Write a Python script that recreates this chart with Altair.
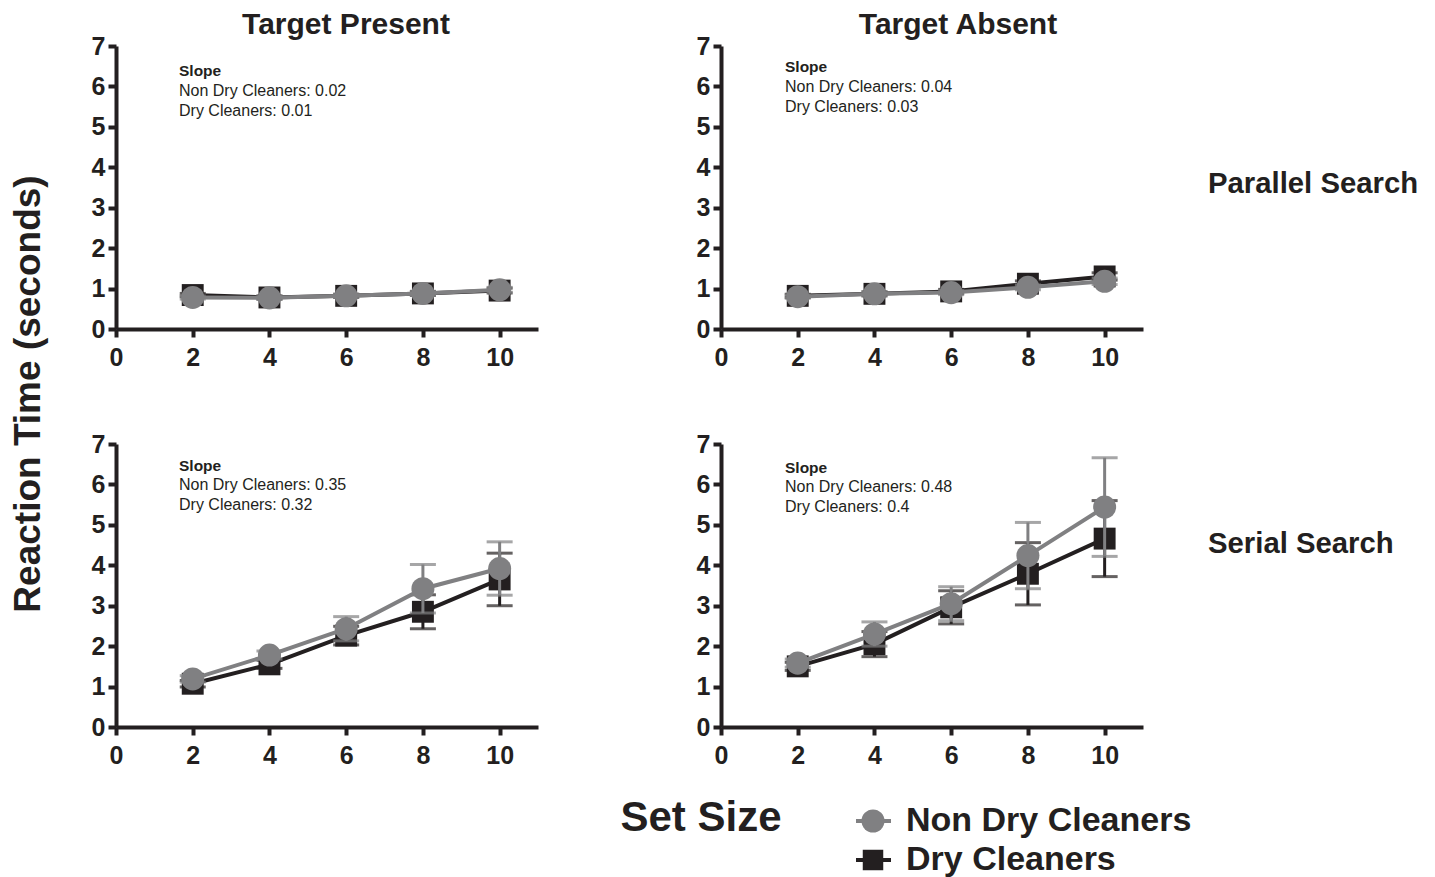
import altair as alt
import pandas as pd

SET_SIZES = [2, 4, 6, 8, 10]
GROUPS = ["Non Dry Cleaners", "Dry Cleaners"]
SEARCHES = ["Parallel Search", "Serial Search"]
TARGETS = ["Target Present", "Target Absent"]

# Parallel search
PP_NON = [0.78, 0.77, 0.82, 0.88, 0.97]
PP_DRY = [0.84, 0.78, 0.82, 0.88, 0.95]
PP_NON_SEM = [0.04, 0.04, 0.04, 0.05, 0.06]
PP_DRY_SEM = [0.04, 0.04, 0.04, 0.05, 0.06]
PA_NON = [0.80, 0.87, 0.90, 1.03, 1.18]
PA_DRY = [0.82, 0.87, 0.93, 1.12, 1.30]
PA_NON_SEM = [0.04, 0.05, 0.05, 0.06, 0.08]
PA_DRY_SEM = [0.04, 0.05, 0.05, 0.07, 0.09]
# Serial search
SP_NON = [1.19, 1.78, 2.43, 3.42, 3.92]
SP_DRY = [1.07, 1.55, 2.26, 2.85, 3.65]
SP_NON_SEM = [0.08, 0.10, 0.30, 0.60, 0.66]
SP_DRY_SEM = [0.08, 0.10, 0.23, 0.42, 0.65]
SA_NON = [1.58, 2.30, 3.05, 4.24, 5.44]
SA_DRY = [1.50, 2.05, 2.96, 3.79, 4.66]
SA_NON_SEM = [0.10, 0.30, 0.42, 0.82, 1.22]
SA_DRY_SEM = [0.10, 0.31, 0.41, 0.77, 0.94]

# Slopes shown in each panel: (Parallel Present, Parallel Absent, Serial Present, Serial Absent)
SLOPE_NON = [0.02, 0.04, 0.35, 0.48]
SLOPE_DRY = [0.01, 0.03, 0.32, 0.4]

X_TICKS = [0, 2, 4, 6, 8, 10]
Y_TICKS = [0, 1, 2, 3, 4, 5, 6, 7]

DARK = "#231f20"
GRAY = "#808082"
FONT = "Liberation Sans"

series = {
    ("Parallel Search", "Target Present"): (PP_NON, PP_NON_SEM, PP_DRY, PP_DRY_SEM),
    ("Parallel Search", "Target Absent"): (PA_NON, PA_NON_SEM, PA_DRY, PA_DRY_SEM),
    ("Serial Search", "Target Present"): (SP_NON, SP_NON_SEM, SP_DRY, SP_DRY_SEM),
    ("Serial Search", "Target Absent"): (SA_NON, SA_NON_SEM, SA_DRY, SA_DRY_SEM),
}
rows = []
for (s, t), (nv, ns, dv, ds) in series.items():
    for i, ss in enumerate(SET_SIZES):
        rows.append(dict(search=s, target=t, group=GROUPS[0], set_size=ss, rt=nv[i], sem=ns[i]))
        rows.append(dict(search=s, target=t, group=GROUPS[1], set_size=ss, rt=dv[i], sem=ds[i]))
df = pd.DataFrame(rows)

W, H = 422, 283

x_enc = alt.X("set_size:Q", title=None,
              scale=alt.Scale(domain=[0, 11], nice=False, zero=False),
              axis=alt.Axis(values=X_TICKS, labelPadding=8, labelFlush=False))
def y_enc(field):
    return alt.Y(field, title=None, scale=alt.Scale(domain=[0, 7], nice=False),
                 axis=alt.Axis(values=Y_TICKS, labelPadding=3, labelFlush=False))


def text_layer(txt, x, y, size, bold=False, align="left", angle=0):
    return alt.Chart(pd.DataFrame({"t": [txt]})).mark_text(
        font=FONT, fontSize=size, fontWeight="bold" if bold else "normal",
        align=align, baseline="middle", color=DARK, angle=angle
    ).encode(text="t:N", x=alt.value(x), y=alt.value(y))


def panel(idx, search, target, slope_y, slope_x, extras):
    base = alt.Chart(df).transform_filter(
        (alt.datum.search == search) & (alt.datum.target == target)
    ).transform_calculate(lo="datum.rt - datum.sem", hi="datum.rt + datum.sem")
    layers = []
    for g, color, shape, size in [(GROUPS[1], DARK, "square", 480), (GROUPS[0], GRAY, "circle", 530)]:
        b = base.transform_filter(alt.datum.group == g)
        layers += [
            b.mark_rule(color=color, strokeWidth=3).encode(x=x_enc, y=y_enc("lo:Q"), y2="hi:Q"),
            b.mark_tick(color=color, thickness=3, size=26, orient="horizontal").encode(x=x_enc, y=y_enc("hi:Q")),
            b.mark_tick(color=color, thickness=3, size=26, orient="horizontal").encode(x=x_enc, y=y_enc("lo:Q")),
            b.mark_line(color=color, strokeWidth=4).encode(x=x_enc, y=y_enc("rt:Q")),
            b.mark_point(shape=shape, filled=True, color=color, size=size, opacity=1).encode(x=x_enc, y=y_enc("rt:Q")),
        ]
    layers += [
        text_layer("Slope", slope_x, slope_y, 15.5, bold=True),
        text_layer(f"{GROUPS[0]}: {SLOPE_NON[idx]}", slope_x, slope_y + 19.5, 16),
        text_layer(f"{GROUPS[1]}: {SLOPE_DRY[idx]}", slope_x, slope_y + 39.5, 16),
    ]
    layers += extras
    return alt.layer(*layers).properties(width=W, height=H)


# decorations
y_title = text_layer("Reaction Time (seconds)", -87, 348, 37, bold=True, align="center", angle=270)
col1 = text_layer(TARGETS[0], 230, -21, 30, bold=True, align="center")
col2 = text_layer(TARGETS[1], 237, -21, 30, bold=True, align="center")
row1 = text_layer(SEARCHES[0], 487, 138, 29.3, bold=True)
row2 = text_layer(SEARCHES[1], 487, 99.5, 29.3, bold=True)
x_title = text_layer("Set Size", -20, 374, 42, bold=True, align="center")

legend_layers = []
for k, (g, color, shape, size) in enumerate([(GROUPS[0], GRAY, "circle", 530), (GROUPS[1], DARK, "square", 420)]):
    ly = 377 + 39 * k
    legend_layers += [
        alt.Chart(pd.DataFrame({"g": [g]})).mark_rule(color=color, strokeWidth=4).encode(
            x=alt.value(135), x2=alt.value(170), y=alt.value(ly)),
        alt.Chart(pd.DataFrame({"g": [g]})).mark_point(shape=shape, filled=True, color=color, size=size, opacity=1).encode(
            x=alt.value(152), y=alt.value(ly)),
        text_layer(g, 185, ly, 34, bold=True),
    ]

p_tl = panel(0, SEARCHES[0], TARGETS[0], 25, 63, [y_title, col1])
p_tr = panel(1, SEARCHES[0], TARGETS[1], 21, 64, [col2, row1])
p_bl = panel(2, SEARCHES[1], TARGETS[0], 21.5, 63, [])
p_br = panel(3, SEARCHES[1], TARGETS[1], 23.5, 64, [row2, x_title] + legend_layers)

chart = alt.concat(
    p_tl, p_tr, p_bl, p_br, columns=2,
    spacing={"row": 115, "column": 183}, bounds="flush",
).properties(
    padding={"left": 2, "top": 2, "right": 0, "bottom": 0}
).configure_view(stroke=None).configure_axis(
    grid=False, domainColor=DARK, domainWidth=4, tickColor=DARK, tickWidth=4, tickSize=8,
    labelFont=FONT, labelFontWeight="bold", labelFontSize=25, labelColor=DARK, labelFlush=False,
)

chart.save("out.html", embed_options={"renderer": "svg", "actions": False})
